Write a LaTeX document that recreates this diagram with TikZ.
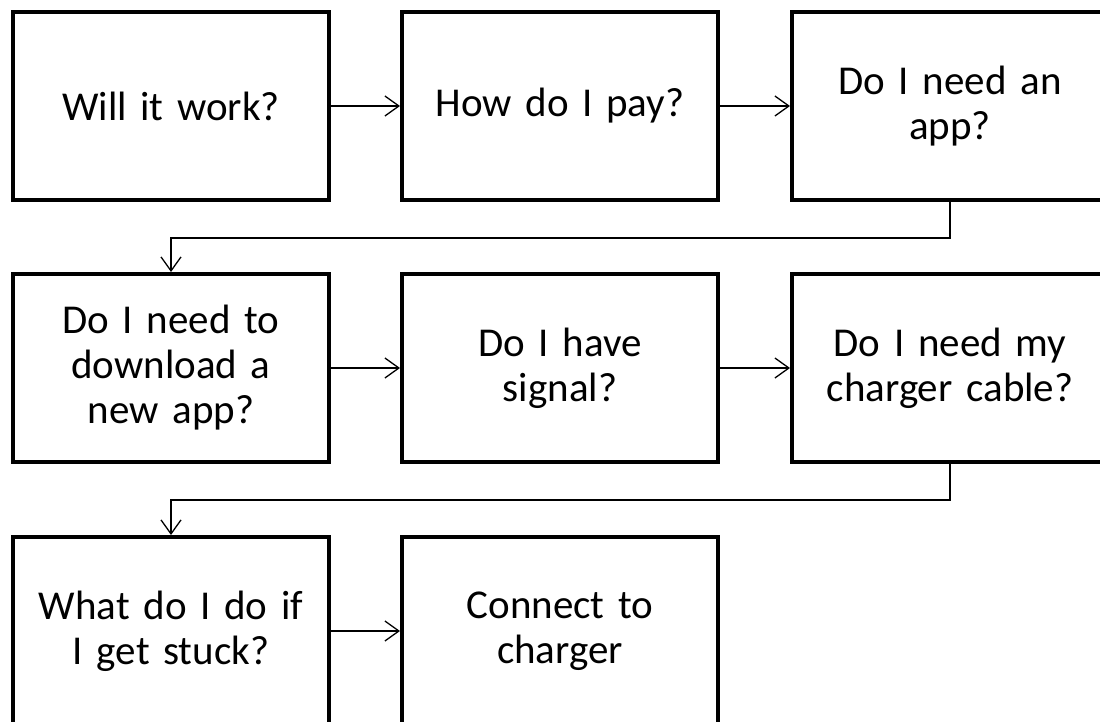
\documentclass[tikz,border=0pt]{standalone}
\usepackage{fontspec}
\setmainfont{Carlito}
\usetikzlibrary{arrows.meta}
\tikzset{
  stepbox/.style={draw=black, line width=4pt, rectangle, minimum width=316pt,
    minimum height=188pt, align=center, text width=300pt, inner sep=0pt,
    font=\fontsize{41}{45}\selectfont},
  arr/.style={draw=black, line width=1.3pt, -{Straight Barb[length=14pt, width=20pt, line width=1.3pt]}}
}
\begin{document}
\begin{tikzpicture}[x=1pt, y=-1pt]
  \clip (0,0) rectangle (1100,722);
  \useasboundingbox (0,0) rectangle (1100,722);
  \fill[white] (0,0) rectangle (1100,722);
  % first row
  \node[stepbox] (b1) at (171,106) {Will it work?};
  \node[stepbox] (b2) at (560,106) {How do I pay?};
  \node[stepbox] (b3) at (950,106) {Do I need an\\app?};
  % second row
  \node[stepbox] (b4) at (171,368) {Do I need to\\download a\\new app?};
  \node[stepbox] (b5) at (560,368) {Do I have\\signal?};
  \node[stepbox] (b6) at (950,368) {Do I need my\\charger cable?};
  % third row
  \node[stepbox] (b7) at (171,631) {What do I do if\\I get stuck?};
  \node[stepbox] (b8) at (560,631) {Connect to\\charger};
  % connectors
  \draw[arr] (b1.east) -- (b2.west);
  \draw[arr] (b2.east) -- (b3.west);
  \draw[arr] (b3.south) -- ++(0,36) -| (b4.north);
  \draw[arr] (b4.east) -- (b5.west);
  \draw[arr] (b5.east) -- (b6.west);
  \draw[arr] (b6.south) -- ++(0,36) -| (b7.north);
  \draw[arr] (b7.east) -- (b8.west);
\end{tikzpicture}
\end{document}
